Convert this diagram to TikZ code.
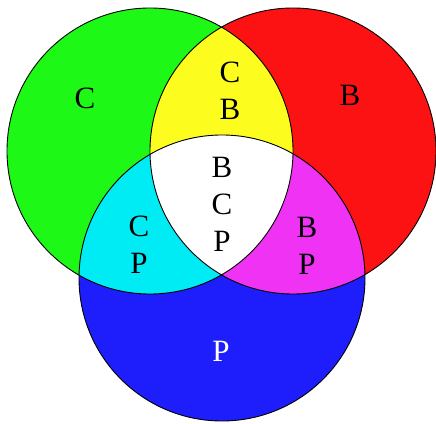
\documentclass[tikz,border=0pt]{standalone}
\usepackage{fontspec}
\setmainfont{Liberation Serif}
\definecolor{vgreen}{RGB}{30,248,22}
\definecolor{vred}{RGB}{252,18,18}
\definecolor{vblue}{RGB}{30,30,252}
\definecolor{vyellow}{RGB}{252,252,30}
\definecolor{vcyan}{RGB}{0,236,245}
\definecolor{vmagenta}{RGB}{240,50,245}
\begin{document}
\begin{tikzpicture}[x=1pt,y=1pt,every node/.style={font=\fontsize{31}{37}\selectfont, align=center}]
	\useasboundingbox (0,0) rectangle (436,423);
	\coordinate (c) at (150,272); \coordinate (b) at (293,272); \coordinate (p) at (222,145);
	\foreach \q/\col in {c/vgreen, b/vred, p/vblue} {\fill[\col] (\q) circle (143);}
	\begin{scope} \clip (c) circle (143); \fill[vyellow] (b) circle (143); \fill[vcyan] (p) circle (143); \end{scope}
	\begin{scope} \clip (b) circle (143); \fill[vmagenta] (p) circle (143); \end{scope}
	\begin{scope} \clip (c) circle (143); \clip (b) circle (143); \fill[white] (p) circle (143); \end{scope}
	\foreach \q in {c,b,p} {\draw[line width=0.9] (\q) circle (143);}
	\node (lc) at (85,325) {C};
	\node (lb) at (350,328) {B};
	\node (lcb) at (230,332) {C\\B};
	\node (lbcp) at (222,219) {B\\C\\P};
	\node (lcp) at (139,178) {C\\P};
	\node (lbp) at (307,177) {B\\P};
	\node[white] (lp) at (221,72) {P};
\end{tikzpicture}
\end{document}
